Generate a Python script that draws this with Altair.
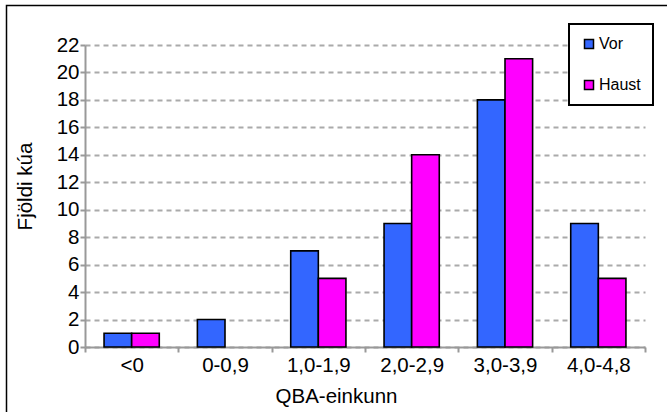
import altair as alt
import pandas as pd

categories = ["<0", "0-0,9", "1,0-1,9", "2,0-2,9", "3,0-3,9", "4,0-4,8"]
seasons = ["Vor", "Haust"]
vor = [1, 2, 7, 9, 18, 9]
haust = [1, 0, 5, 14, 21, 5]
colors = ["#3366ff", "#ff00ff"]
y_ticks = list(range(0, 23, 2))

rows = []
for c, v, h in zip(categories, vor, haust):
    rows.append({"cat": c, "season": "Vor", "value": v})
    rows.append({"cat": c, "season": "Haust", "value": h})
df = pd.DataFrame(rows)

FONT = "Liberation Sans"

bars = alt.Chart(df).transform_filter("datum.value > 0").mark_bar(
    stroke="black", strokeWidth=1.6
).encode(
    x=alt.X(
        "cat:N",
        sort=categories,
        scale=alt.Scale(paddingInner=0, paddingOuter=0),
        axis=alt.Axis(
            labelAngle=0,
            tickBand="extent",
            domainColor="#999999",
            domainWidth=2,
            tickColor="#999999",
            tickWidth=2,
            tickSize=5,
            labelFontSize=20.5,
            labelFont=FONT,
            labelColor="black",
            labelPadding=3,
            title="QBA-einkunn",
            titleFont=FONT,
            titleFontSize=20.5,
            titleFontWeight="normal",
            titleColor="black",
            titleX=251,
            titleY=55,
            titleAlign="center",
            titleBaseline="alphabetic",
            grid=False,
        ),
    ),
    xOffset=alt.XOffset(
        "season:N",
        sort=seasons,
        scale=alt.Scale(paddingInner=0, paddingOuter=0.69),
    ),
    y=alt.Y(
        "value:Q",
        scale=alt.Scale(domain=[0, 22], nice=False),
        axis=alt.Axis(
            values=y_ticks,
            grid=True,
            gridDash=[5, 4],
            gridColor="#aaaaaa",
            gridWidth=2,
            domainColor="#999999",
            domainWidth=2,
            tickColor="#999999",
            tickWidth=2,
            tickSize=5,
            labelFontSize=20.5,
            labelFont=FONT,
            labelColor="black",
            labelPadding=1,
            title="Fjöldi kúa",
            titleFont=FONT,
            titleFontSize=20.5,
            titleFontWeight="normal",
            titleColor="black",
            titleAngle=270,
            titleX=-54,
            titleY=141,
            titleAlign="center",
            titleBaseline="alphabetic",
        ),
    ),
    color=alt.Color(
        "season:N",
        sort=seasons,
        scale=alt.Scale(domain=seasons, range=colors),
        legend=alt.Legend(
            title=None,
            orient="none",
            legendX=484,
            legendY=-21,
            symbolType="square",
            symbolSize=81,
            symbolStrokeColor="black",
            symbolStrokeWidth=1.5,
            symbolOpacity=1,
            labelFont=FONT,
            labelFontSize=16,
            labelColor="black",
            labelOffset=2,
            rowPadding=25,
            padding=12,
            strokeColor="black",
            fillColor="white",
        ),
    ),
)

frame = alt.Chart(pd.DataFrame({"a": [0]})).mark_rect(
    fillOpacity=0, stroke="black", strokeWidth=1.5
).encode(
    x=alt.value(-78.5), x2=alt.value(700), y=alt.value(-39.5), y2=alt.value(450)
)

chart = alt.layer(bars, frame).properties(
    width=560,
    height=302,
    autosize=alt.AutoSizeParams(type="none"),
    padding={"left": 85, "top": 45, "right": 22, "bottom": 65},
    background="white",
).configure_view(stroke=None).configure_legend(strokeWidth=2)

chart.save("out.html", embed_options={"renderer": "svg", "actions": False})
